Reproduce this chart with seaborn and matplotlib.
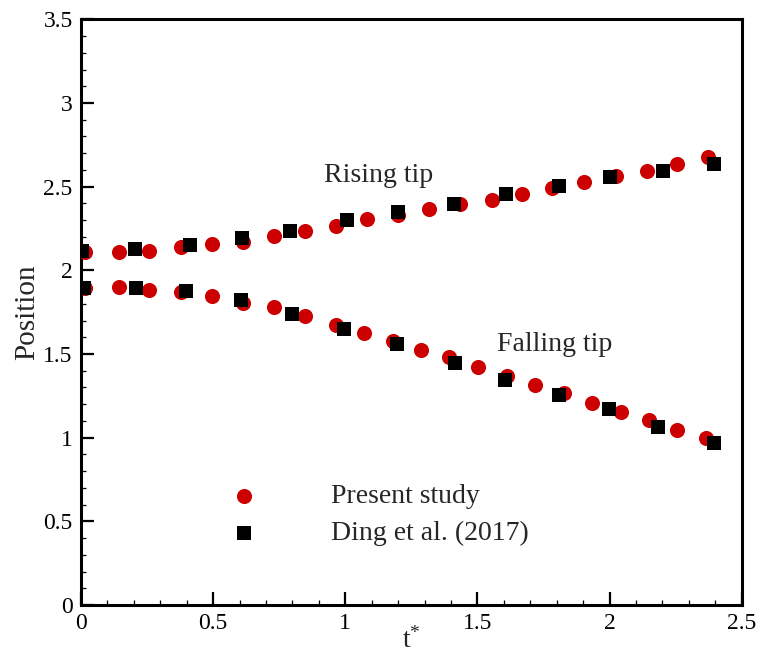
import numpy as np
import pandas as pd
import matplotlib
matplotlib.use("Agg")
import matplotlib.pyplot as plt
from matplotlib.ticker import MultipleLocator, FuncFormatter
import seaborn as sns

# ---- data ----
t_present_rise = [0.015, 0.144, 0.257, 0.378, 0.495, 0.612, 0.730, 0.847, 0.964, 1.081, 1.198,
                  1.316, 1.433, 1.554, 1.667, 1.784, 1.902, 2.023, 2.140, 2.257, 2.374]
y_present_rise = [2.109, 2.107, 2.113, 2.137, 2.157, 2.169, 2.207, 2.237, 2.267, 2.307, 2.328,
                  2.367, 2.397, 2.422, 2.456, 2.492, 2.526, 2.566, 2.596, 2.636, 2.678]
t_present_fall = [0.015, 0.144, 0.257, 0.378, 0.495, 0.612, 0.730, 0.847, 0.964, 1.070, 1.180,
                  1.285, 1.391, 1.501, 1.611, 1.716, 1.826, 1.932, 2.042, 2.148, 2.254, 2.364]
y_present_fall = [1.894, 1.898, 1.884, 1.868, 1.848, 1.804, 1.778, 1.728, 1.675, 1.625, 1.575,
                  1.525, 1.479, 1.425, 1.370, 1.316, 1.266, 1.206, 1.156, 1.106, 1.047, 0.997]
t_ding_rise = [0.005, 0.203, 0.412, 0.609, 0.790, 1.005, 1.198, 1.410, 1.607, 1.810, 2.000, 2.204, 2.397]
y_ding_rise = [2.113, 2.125, 2.149, 2.193, 2.237, 2.298, 2.346, 2.398, 2.458, 2.502, 2.556, 2.592, 2.638]
t_ding_fall = [0.011, 0.208, 0.397, 0.605, 0.798, 0.994, 1.194, 1.414, 1.603, 1.807, 1.997, 2.185, 2.397]
y_ding_fall = [1.894, 1.894, 1.874, 1.820, 1.740, 1.651, 1.561, 1.449, 1.346, 1.256, 1.172, 1.066, 0.971]

series_labels = ["Present study", "Ding et al. (2017)"]
annotations = [("Rising tip", 1.127, 2.566), ("Falling tip", 1.792, 1.555)]
x_ticks = [0, 0.5, 1, 1.5, 2, 2.5]
y_ticks = [0, 0.5, 1, 1.5, 2, 2.5, 3, 3.5]

present = pd.DataFrame({"t": t_present_rise + t_present_fall,
                        "y": y_present_rise + y_present_fall})
ding = pd.DataFrame({"t": t_ding_rise + t_ding_fall,
                     "y": y_ding_rise + y_ding_fall})

sns.set_theme(style="white")
plt.rcParams["font.family"] = ["Liberation Serif", "DejaVu Serif"]
plt.rcParams["mathtext.fontset"] = "custom"
plt.rcParams["mathtext.rm"] = "Liberation Serif"
plt.rcParams["mathtext.it"] = "Liberation Serif"

fig = plt.figure(figsize=(7.58, 6.54), dpi=100)
ax = fig.add_axes([81 / 758, 1 - 605 / 654, (741.7 - 81) / 758, (605 - 19.3) / 654])

red = "#cc0000"
sns.scatterplot(data=present, x="t", y="y", ax=ax, marker="o", s=118, color=red,
                linewidth=0, label=series_labels[0], zorder=3)
sns.scatterplot(data=ding, x="t", y="y", ax=ax, marker="s", s=100, color="black",
                linewidth=0, label=series_labels[1], zorder=4)

ax.set_xlim(0, 2.5)
ax.set_ylim(0, 3.5)
ax.set_xticks(x_ticks)
ax.set_yticks(y_ticks)
fmt = FuncFormatter(lambda v, p: f"{v:g}")
ax.xaxis.set_major_formatter(fmt)
ax.yaxis.set_major_formatter(fmt)
ax.xaxis.set_minor_locator(MultipleLocator(0.1))
ax.yaxis.set_minor_locator(MultipleLocator(0.1))
ax.tick_params(axis="both", which="major", direction="in", length=9.5, width=1.6,
               labelsize=17, pad=6, colors="black", bottom=True, left=True, top=False, right=False)
ax.tick_params(axis="both", which="minor", direction="in", length=3.8, width=0.9,
               bottom=True, left=True, top=False, right=False, colors="black")
for sp in ax.spines.values():
    sp.set_visible(True)
    sp.set_color("black")
    sp.set_linewidth(2.2)

ax.set_xlabel(r"t$^{*}$", fontsize=20, labelpad=-5)
ax.set_ylabel("Position", fontsize=21, labelpad=2)

for txt, x, y in annotations:
    ax.text(x, y, txt, fontsize=20, ha="center", va="center")

leg = ax.legend(loc="center left", bbox_to_anchor=(216 / 758, 1 - 515 / 654),
                bbox_transform=fig.transFigure, frameon=False, fontsize=20,
                handlelength=2.0, handletextpad=2.15, borderpad=0, borderaxespad=0,
                labelspacing=0.4, markerscale=1.0)

fig.savefig("out.png", dpi=100, facecolor="white")
